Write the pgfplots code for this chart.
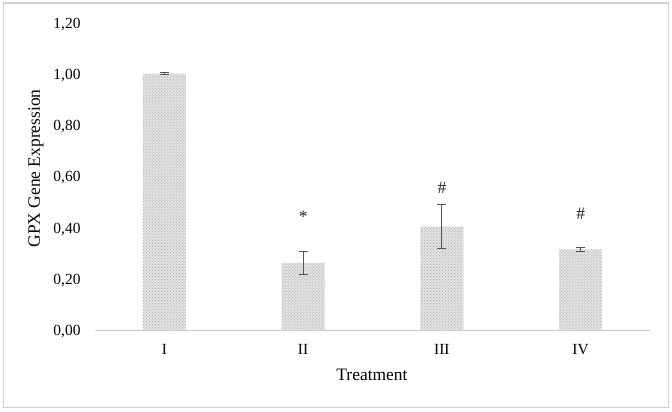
\documentclass[border=0pt]{standalone}
\usepackage{pgfplots}
\pgfplotsset{compat=1.18}
\usepackage{fontspec}
\setmainfont{Liberation Serif}
\usetikzlibrary{patterns}
\definecolor{framegray}{HTML}{CFCFCF}
\definecolor{axisgray}{HTML}{C8C8C8}
\definecolor{errgray}{HTML}{555555}
\begin{document}
\begin{tikzpicture}[x=1bp,y=1bp]
\useasboundingbox (0,0) rectangle (672,411);
\draw[framegray, line width=1.4bp] (3.5,3.5) rectangle (668.5,408);
\begin{axis}[
  at={(95bp,80.5bp)}, anchor=south west,
  scale only axis, width=555bp, height=307.5bp,
  xmin=-0.5, xmax=3.5, ymin=0, ymax=1.2,
  axis x line*=bottom, axis y line*=left,
  y axis line style={draw=none},
  x axis line style={axisgray, line width=1bp, -},
  xtick={0,1,2,3}, xticklabels={I,II,III,IV},
  ytick={0,0.2,0.4,0.6,0.8,1.0,1.2},
  major tick length=0pt,
  tick style={draw=none},
  yticklabel style={/pgf/number format/fixed, /pgf/number format/fixed zerofill, /pgf/number format/precision=2, /pgf/number format/use comma, /pgf/number format/assume math mode=true},
  yticklabel style={anchor=base east, inner sep=0pt, xshift=-14.3bp, yshift=-5.2bp, font=\fontsize{15.5}{18}\selectfont},
  xticklabel style={anchor=center, inner sep=0pt, yshift=-19bp, font=\fontsize{15.5}{18}\selectfont},
  xlabel={Treatment}, ylabel={GPX Gene Expression},
  xlabel style={at={(axis description cs:0.499,-0.1447)}, anchor=center, font=\fontsize{17.5}{20}\selectfont},
  ylabel style={at={(axis description cs:-0.1063,0.527)}, anchor=center, font=\fontsize{17.5}{20}\selectfont},
  clip=false,
]
\addplot[ybar, bar width=43bp, draw=none, fill=gray!22,
  postaction={pattern=crosshatch dots, pattern color=gray!70},
  error bars/.cd, y dir=both, y explicit,
  error bar style={errgray, line width=1bp},
  error mark options={rotate=90, mark size=4.5bp, errgray, line width=1bp}]
  coordinates {(0,1.002) +- (0,0.003) (1,0.2635) +- (0,0.0435) (2,0.405) +- (0,0.086) (3,0.317) +- (0,0.008)};
\addplot[draw=none, mark=none, nodes near coords, point meta=explicit symbolic,
  nodes near coords style={anchor=center, inner sep=0pt, text=black!85, font=\fontsize{17.5}{20}\selectfont}]
  coordinates {(1,0.445) [*] (2,0.557) [\#] (3,0.456) [\#]};
\end{axis}
\end{tikzpicture}
\end{document}
